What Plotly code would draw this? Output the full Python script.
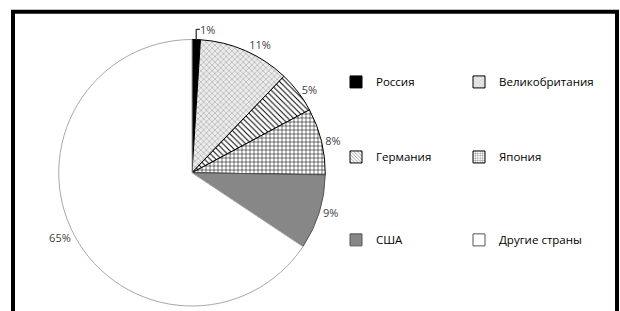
import plotly.graph_objects as go

labels = ["Россия", "Великобритания", "Германия", "Япония", "США", "Другие страны"]
values = [1, 11, 5, 8, 9, 65]
colors = ["#000000", "#ececec", "#ffffff", "#ffffff", "#878787", "#ffffff"]
pattern_shapes = ["", "x", "\\", "+", "", ""]
pattern_fg = ["#000000", "#9a9a9a", "#000000", "#000000", "#878787", "#ffffff"]
line_colors = ["#000000", "#000000", "#000000", "#000000", "#555555", "#a8a8a8"]

W, H = 620, 311
FONT = "Open Sans"

fig = go.Figure()
fig.add_trace(go.Pie(
    labels=labels, values=values, sort=False, direction="clockwise", rotation=0,
    marker=dict(colors=colors, line=dict(color=line_colors, width=1),
                pattern=dict(shape=pattern_shapes, fgcolor=pattern_fg, bgcolor=colors,
                             size=4, solidity=0.25)),
    texttemplate="%{value}%", textposition="outside",
    textfont=dict(family=FONT, size=11, color="#404040"),
    outsidetextfont=dict(family=FONT, size=11, color="#404040"),
    domain=dict(x=[57 / W, 327 / W], y=[1 - 310 / H, 1 - 40 / H]),
    showlegend=False, hoverinfo="label+value",
))

# legend grid: 2 columns x 3 rows
leg_x = [336, 459]
leg_y = [83, 159, 243]
layout_legends = {}
for i, lab in enumerate(labels):
    name = "legend" if i == 0 else f"legend{i + 1}"
    fig.add_trace(go.Bar(
        x=[lab], y=[0], name=lab, legend=name, hoverinfo="skip",
        marker=dict(color=colors[i], line=dict(color=line_colors[i] if i != 5 else "#555555", width=1),
                    pattern=dict(shape=pattern_shapes[i], fgcolor=pattern_fg[i], bgcolor=colors[i],
                                 size=3, solidity=0.3)),
    ))
    layout_legends[name] = dict(
        x=leg_x[i % 2] / W, y=1 - leg_y[i // 2] / H, xanchor="left", yanchor="middle",
        orientation="v", itemwidth=30, bgcolor="rgba(0,0,0,0)",
        font=dict(family=FONT, size=11.5, color="#000000"), itemclick=False)

fig.update_layout(
    width=W, height=H, margin=dict(l=0, r=0, t=0, b=0),
    paper_bgcolor="white", plot_bgcolor="white",
    xaxis=dict(visible=False, domain=[0.99, 1]),
    yaxis=dict(visible=False, domain=[0.99, 1], range=[1, 2]),
    shapes=[dict(type="rect", xref="paper", yref="paper",
                 x0=13 / W, x1=617 / W, y0=-0.1, y1=1 - 12 / H,
                 line=dict(color="black", width=4), layer="above")],
    showlegend=True,
    **layout_legends,
)
fig.write_html("out.html", config={"displayModeBar": False},
               post_script="document.body.style.margin='0';")
